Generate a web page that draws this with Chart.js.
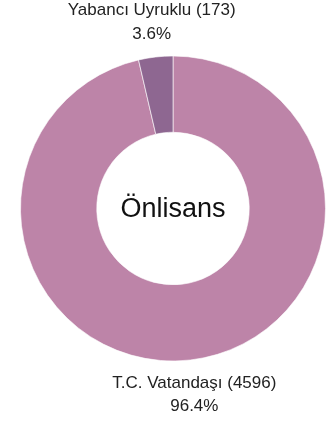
<!DOCTYPE html>
<html>
<head>
<meta charset="utf-8">
<script src="https://cdn.jsdelivr.net/npm/chart.js@4"></script>
<style>
  html, body { margin: 0; padding: 0; background: #fff; }
  #wrap { width: 331px; height: 422px; position: relative; }
</style>
</head>
<body>
<div id="wrap"><canvas id="c" width="331" height="422"></canvas></div>
<script>
const categories = ['T.C. Vatandaşı', 'Yabancı Uyruklu'];
const counts = [4596, 173];
const percentLabels = ['96.4%', '3.6%'];
const sliceColors = ['#bd84a8', '#8e6791'];
const centerTitle = 'Önlisans';

const FONT = '"Liberation Sans", Arial, sans-serif';

// Writes the category name, count and share outside each arc
const outerLabels = {
  id: 'outerLabels',
  afterDatasetsDraw(chart) {
    const ctx = chart.ctx;
    const meta = chart.getDatasetMeta(0);
    ctx.save();
    ctx.fillStyle = '#222';
    ctx.textAlign = 'center';
    ctx.textBaseline = 'middle';
    ctx.font = '17px ' + FONT;
    meta.data.forEach((arc, i) => {
      const p = arc.getProps(['x', 'y', 'startAngle', 'endAngle', 'outerRadius']);
      const mid = (p.startAngle + p.endAngle) / 2;
      const r = p.outerRadius + 35;
      const cx = p.x + Math.cos(mid) * r;
      const cy = p.y + Math.sin(mid) * r;
      ctx.fillText(categories[i] + ' (' + counts[i] + ')', cx, cy - 11.5);
      ctx.fillText(percentLabels[i], cx, cy + 12);
    });
    ctx.restore();
  }
};

// Title in the hole of the ring
const centerText = {
  id: 'centerText',
  afterDatasetsDraw(chart) {
    const ctx = chart.ctx;
    const arc = chart.getDatasetMeta(0).data[0];
    ctx.save();
    ctx.fillStyle = '#111';
    ctx.textAlign = 'center';
    ctx.textBaseline = 'middle';
    ctx.font = '27px ' + FONT;
    ctx.fillText(centerTitle, arc.x, arc.y + 1);
    ctx.restore();
  }
};

new Chart(document.getElementById('c'), {
  type: 'doughnut',
  data: {
    labels: categories,
    datasets: [{
      data: counts,
      backgroundColor: sliceColors,
      borderColor: 'rgba(255,255,255,0.6)',
      borderWidth: 1
    }]
  },
  options: {
    responsive: false,
    animation: false,
    cutout: '50%',
    layout: { padding: { left: 20, right: 5, top: 55, bottom: 60 } },
    plugins: {
      legend: { display: false },
      tooltip: { enabled: false }
    }
  },
  plugins: [outerLabels, centerText]
});
</script>
</body>
</html>
